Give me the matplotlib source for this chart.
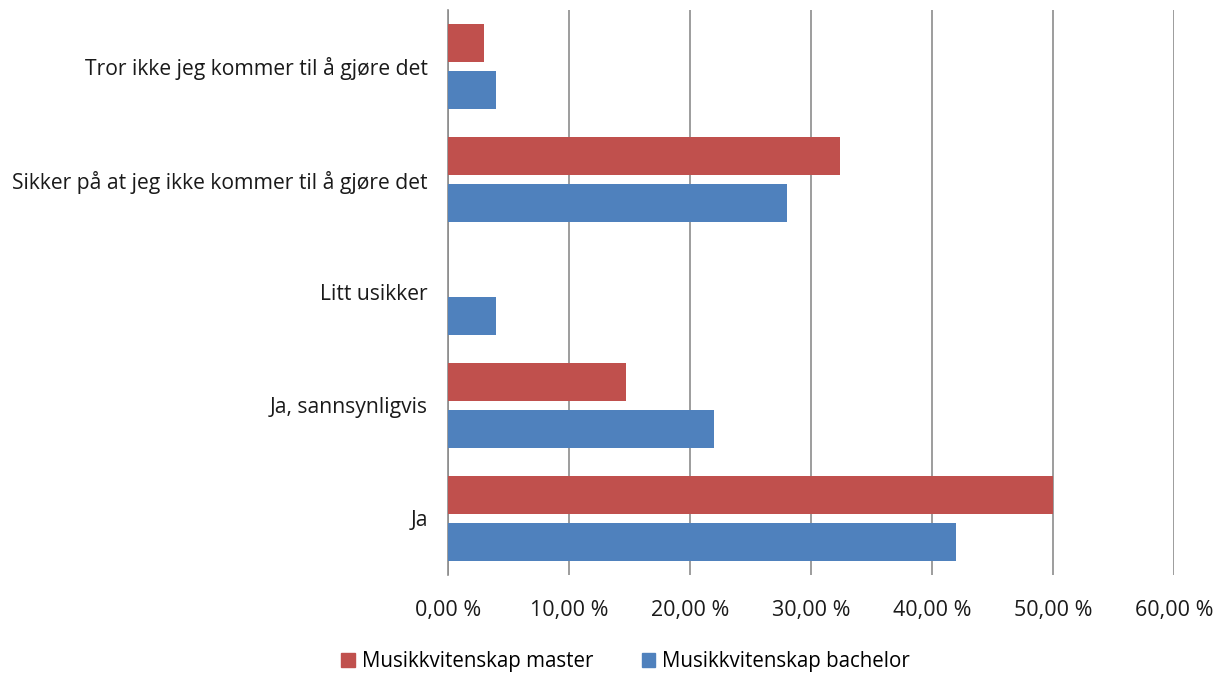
import matplotlib
matplotlib.use("Agg")
import matplotlib.pyplot as plt
import numpy as np
from matplotlib.ticker import FuncFormatter
from matplotlib.patches import Patch

categories = ["Ja", "Ja, sannsynligvis", "Litt usikker",
              "Sikker på at jeg ikke kommer til å gjøre det",
              "Tror ikke jeg kommer til å gjøre det"]
master = [50.0, 14.7, 0.0, 32.4, 3.0]
bachelor = [42.0, 22.0, 4.0, 28.0, 4.0]
series_names = ["Musikkvitenskap master", "Musikkvitenskap bachelor"]
xticks = [0, 10, 20, 30, 40, 50, 60]

red = "#C0504D"
blue = "#4F81BD"
grid = "#8C8C8C"

plt.rcParams['font.family'] = ['Open Sans', 'DejaVu Sans']

fig = plt.figure(figsize=(12.23, 6.75), dpi=100)
ax = fig.add_axes([448/1223, 1-575/675, (1174-448)/1223, (575-10)/675])

y = np.arange(len(categories))
h = 0.336
off = 0.208
ax.barh(y + off, master, height=h, color=red, zorder=3)
ax.barh(y - off, bachelor, height=h, color=blue, zorder=3)

ax.set_xlim(0, 60)
ax.set_ylim(-0.5, len(categories) - 0.5)
ax.set_xticks(xticks)
ax.xaxis.set_major_formatter(FuncFormatter(lambda v, p: f"{v:.2f}".replace(".", ",") + " %"))
ax.set_yticks(y)
ax.set_yticklabels(categories)
ax.tick_params(axis='y', length=0, pad=14.5, labelsize=15.2, colors="#1a1a1a")
ax.tick_params(axis='x', length=0, pad=18, labelsize=15.5, colors="#1a1a1a")
ax.grid(axis='x', color=grid, linewidth=1.2, zorder=0)
for s in ['top', 'right', 'bottom']:
    ax.spines[s].set_visible(False)
ax.spines['left'].set_color(grid)
ax.spines['left'].set_linewidth(1.2)

handles = [Patch(color=red, label=series_names[0]), Patch(color=blue, label=series_names[1])]
fig.legend(handles=handles, loc='center', bbox_to_anchor=(0.5115, 1-662/675), ncol=2,
           frameon=False, fontsize=14.8, handlelength=0.65, handleheight=0.65,
           columnspacing=2.35, handletextpad=0.35)

fig.savefig("out.png", dpi=100)
